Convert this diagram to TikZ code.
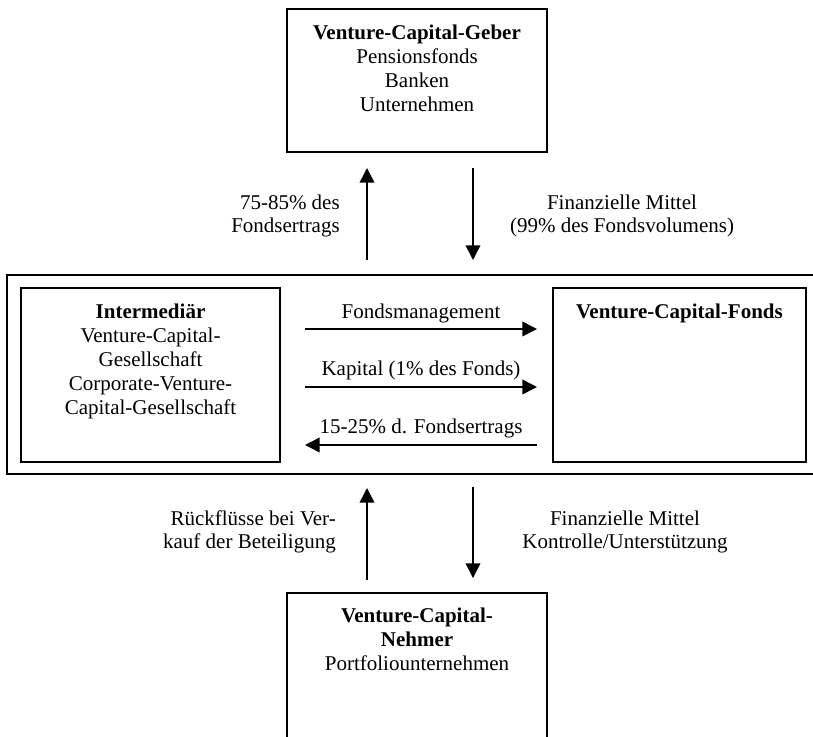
\documentclass[tikz,border=0pt]{standalone}
\usepackage{fontspec}
\setmainfont{Liberation Serif}
\usetikzlibrary{arrows.meta}
\def\pxu{0.75pt}
\tikzset{
  box/.style={draw, line width=1.1pt, inner sep=0pt, fill=none},
  txt/.style={inner sep=0pt, align=center, font=\fontsize{15.75}{18}\selectfont},
  lbl/.style={inner sep=0pt, font=\fontsize{15.75}{17.5}\selectfont},
  arr/.style={line width=1.1pt, -{Triangle[width=11pt,length=11pt]}}
}
\begin{document}
\begin{tikzpicture}[x=0.75pt,y=-0.75pt]
\useasboundingbox (0,0) rectangle (813,736);
\fill[white] (0,0) rectangle (813,736);
\clip (0,0) rectangle (813,736);
% boxes
\node[box, minimum width=260*\pxu, minimum height=143*\pxu] (geber) at (417,80.5) {};
\node[box, minimum width=813*\pxu, minimum height=199*\pxu] (outer) at (413.5,374.5) {};
\node[box, minimum width=259*\pxu, minimum height=174*\pxu] (inter) at (150.5,375) {};
\node[box, minimum width=253*\pxu, minimum height=174*\pxu] (fonds) at (679.5,375) {};
\node[box, minimum width=260*\pxu, minimum height=152*\pxu] (nehmer) at (417,669) {};
% box texts
\node[txt, anchor=north] (tgeber) at (417,25) {\textbf{Venture-Capital-Geber}\\Pensionsfonds\\Banken\\Unternehmen};
\node[txt, anchor=north] (tinter) at (150.5,304) {\textbf{Intermediär}\\Venture-Capital-\\Gesellschaft\\Corporate-Venture-\\Capital-Gesellschaft};
\node[txt, anchor=north] (tfonds) at (679.5,304) {\textbf{Venture-Capital-Fonds}};
\node[txt, anchor=north] (tnehmer) at (417,608) {\textbf{Venture-Capital-}\\\textbf{Nehmer}\\Portfoliounternehmen};
% coordinates for arrows
\coordinate (u1s) at (367,260); \coordinate (u1e) at (367,168);
\coordinate (d1s) at (473,168); \coordinate (d1e) at (473,260);
\coordinate (u2s) at (367,580); \coordinate (u2e) at (367,488);
\coordinate (d2s) at (473,487); \coordinate (d2e) at (473,578);
\coordinate (h1s) at (305,329); \coordinate (h1e) at (537,329);
\coordinate (h2s) at (305,387); \coordinate (h2e) at (537,387);
\coordinate (h3s) at (537,445); \coordinate (h3e) at (305,445);
\draw[arr] (u1s) -- (u1e);
\draw[arr] (d1s) -- (d1e);
\draw[arr] (u2s) -- (u2e);
\draw[arr] (d2s) -- (d2e);
\draw[arr] (h1s) -- (h1e);
\draw[arr] (h2s) -- (h2e);
\draw[arr] (h3s) -- (h3e);
% labels
\node[lbl, align=right, anchor=east] (l1) at (340,216) {75-85\% des\\Fondsertrags};
\node[lbl, align=center] (r1) at (622,216) {Finanzielle Mittel\\(99\% des Fondsvolumens)};
\node[lbl, align=right, anchor=east] (l2) at (336,532) {Rückflüsse bei Ver-\\kauf der Beteiligung};
\node[lbl, align=center] (r2) at (625,532) {Finanzielle Mittel\\Kontrolle/Unterstützung};
\node[lbl] (f1) at (421,313) {Fondsmanagement};
\node[lbl] (f2) at (421,370) {Kapital (1\% des Fonds)};
\node[lbl] (f3) at (421,428) {15-25\% d. Fondsertrags};
\end{tikzpicture}
\end{document}
